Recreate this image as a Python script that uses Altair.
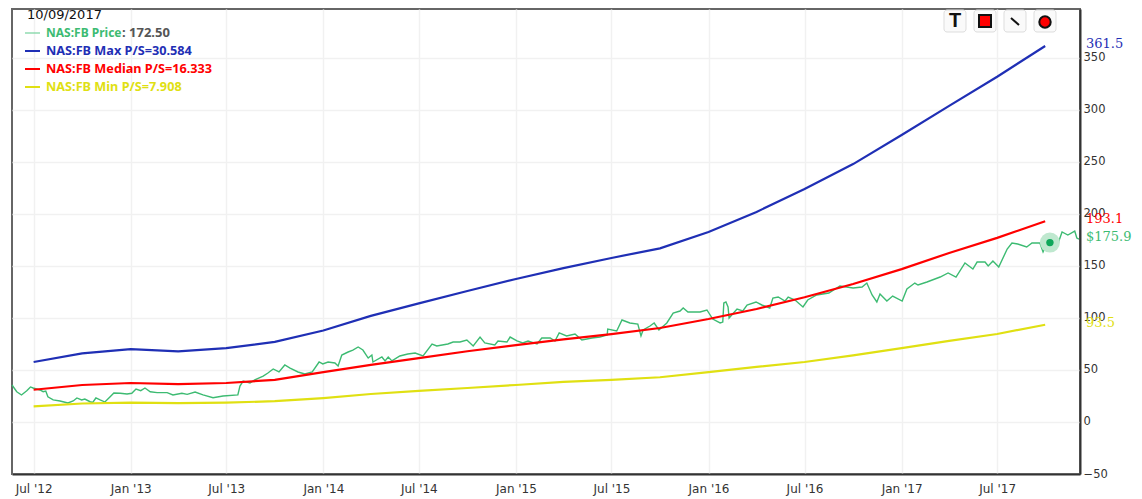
import altair as alt
import pandas as pd

# --- price series: days since 2012-05-21 and closing price ---
price_days = [0,4,9,18,28,35,40,53,59,64,68,78,91,106,116,123,132,138,148,153,159,167,176,186,193,205,218,227,235,244,252,262,275,294,305,322,332,347,362,381,400,428,432,
438,451,460,476,485,495,506,517,527,542,555,569,582,589,599,612,618,625,637,646,656,665,675,682,684,701,707,713,720,735,750,764,779,796,805,826,836,849,
862,874,887,896,915,921,938,944,957,968,978,995,1004,1020,1029,1037,1051,1067,1080,1099,1114,1128,1129,1146,1156,1171,1186,1192,1196,1209,1217,1226,1241,1253,1266,
1272,1281,1304,1317,1328,1342,1347,1349,1353,1357,1359,1374,1385,1393,1410,1421,1436,1442,1452,1465,1471,1484,1499,1508,1525,1548,1569,1594,1611,1620,1630,1639,1645,1658,1669,
1687,1696,1711,1717,1734,1759,1774,1789,1806,1821,1829,1844,1850,1859,1870,1886,1895,1906,1923,1933,1948,1954,1961,1967,1982,1990,2001,2014,2018,2022]
price_values = [35.6,32.7,29.1,26,30.1,33.7,32.7,30.8,29.1,29.8,24.3,21.2,20.2,18.3,20.2,23.1,21.2,22.1,19.5,18.9,23.1,21.2,19.2,24.3,27.9,27.6,26.9,27.6,31.7,30.1,32.7,29.1,28.2,28.2,26,27.6,26.6,28.8,26,23.4,25,26,34.6,
39.4,37.5,40.4,44.2,47.1,51,48.1,54.8,51.9,48.1,46.2,48.1,57.7,55.8,57.7,56.7,53.8,64.4,67.3,69.2,72.1,69.2,61.5,64.4,57.7,62.5,58.7,62.5,58.7,63.5,65.4,66.3,63.5,75,73.1,75,76.9,76.9,
78.8,73.1,81.7,76,74,77.9,76.9,81.7,77.9,76,77.9,75,80.8,80.8,77.9,85.6,82.7,84.6,78.8,80.8,81.7,83.7,89.4,87.5,98.1,95.2,94.2,82.7,88.5,92.3,95.2,88.5,95.2,104.8,106.7,
109.6,105.8,105.8,107.7,99,95.2,96.1,114.4,115.4,110.6,100,108.6,106.7,112.5,115.4,112.5,109.6,119.2,120.2,116.3,120.2,117.3,110.6,117.3,122.1,124,130.8,128.8,129.8,133.6,122.1,115.4,123.1,116.3,121.1,
116.3,127.9,133.6,131.7,134.6,139.4,143.3,139.4,152.9,147.1,153.8,153.8,150,154.8,149,166.3,172.1,171.1,168.3,172.1,172.1,163.5,171.1,172.5,171.1,182.7,179.8,183.6,176.9,175.9]

# --- quarterly valuation lines ---
quarters = ["2012-07-01","2012-10-01","2013-01-01","2013-04-01","2013-07-01","2013-10-01","2014-01-01","2014-04-01",
            "2014-07-01","2014-10-01","2015-01-01","2015-04-01","2015-07-01","2015-10-01","2016-01-01","2016-04-01",
            "2016-07-01","2016-10-01","2017-01-01","2017-04-01","2017-07-01","2017-09-30"]
max_ps = [57.7,66,70,68,71,77,88,102,114,126,137.5,148,157.7,167,182.7,202,224,248,276,304,332,361.5]
median_ps = [31,35.6,37.5,36.5,37.5,40.5,48,55,61.5,68,74,79.5,84.5,90.4,99,108.6,120,132.7,147,162.5,177,193.1]
min_ps = [15,17.8,18.6,18.2,18.6,20,23,26.9,30,32.7,35.6,38.5,40.5,43,48,53,57.7,64,71,78,84.6,93.5]

y_ticks = [-50,0,50,100,150,200,250,300,350]
x_ticks = [(2012,7),(2013,1),(2013,7),(2014,1),(2014,7),(2015,1),(2015,7),(2016,1),(2016,7),(2017,1),(2017,7)]

GREEN, BLUE, RED, YELLOW = "#3dbb72", "#1f2fb5", "#ff0000", "#e0e012"
OX, OY = 12, 9  # plot origin in the page

base = pd.Timestamp("2012-05-21")
price_df = pd.DataFrame({"date": [(base + pd.Timedelta(days=d)).strftime("%Y-%m-%d") for d in price_days],
                         "v": price_values})
q_df = pd.DataFrame({"date": quarters, "max": max_ps, "median": median_ps, "min": min_ps})

x_scale = alt.Scale(domain=["2012-05-21", "2017-12-05"])
y_scale = alt.Scale(domain=[-50, 397.1], nice=False, zero=False)
x_enc = alt.X("date:T", scale=x_scale, title=None,
              axis=alt.Axis(values=[alt.DateTime(year=a, month=m, date=1) for a, m in x_ticks],
                            format="%b '%y", ticks=False, labelPadding=9, labelFlush=False,
                            labelFont="DejaVu Sans", labelFontSize=12, labelColor="#333333",
                            domainColor="#333333", domainWidth=2,
                            grid=True, gridColor="#f1f1f1", gridWidth=1.5))
y_enc = alt.Y("v:Q", scale=y_scale, title=None,
              axis=alt.Axis(orient="right", values=y_ticks, ticks=False, labelPadding=3,
                            labelFont="DejaVu Sans", labelFontSize=11.5, labelColor="#333333",
                            domainColor="#333333", domainWidth=2,
                            grid=True, gridColor="#f1f1f1", gridWidth=1.5))

price = alt.Chart(price_df).mark_line(color=GREEN, strokeWidth=1.4, interpolate="linear").encode(x=x_enc, y=y_enc)

def qline(col, color):
    return alt.Chart(q_df).transform_calculate(v=f"datum['{col}']").mark_line(
        color=color, strokeWidth=2.2).encode(x=alt.X("date:T"), y=alt.Y("v:Q"))

halo = alt.Chart(pd.DataFrame({"date": ["2017-10-09"], "v": [172.5]})).mark_point(
    filled=True, size=400, color="#bfe8cf", opacity=1).encode(x="date:T", y="v:Q")
dot = alt.Chart(pd.DataFrame({"date": ["2017-10-09"], "v": [172.5]})).mark_point(
    filled=True, size=55, color="#0fa75a", opacity=1).encode(x="date:T", y="v:Q")

LEG = "Noto Sans"

def text(t, px, py, color, size=12.7, weight="bold", font=LEG, align="left"):
    return alt.Chart(pd.DataFrame({"t": [t]})).mark_text(
        align=align, baseline="middle", font=font, fontSize=size, fontWeight=weight, color=color
    ).encode(text="t:N", x=alt.value(px - OX), y=alt.value(py - OY))

def seg(x1, y1, x2, y2, color, w):
    return alt.Chart(pd.DataFrame({"a": [0]})).mark_rule(color=color, strokeWidth=w).encode(
        x=alt.value(x1 - OX), x2=alt.value(x2 - OX), y=alt.value(y1 - OY), y2=alt.value(y2 - OY))

def box(x1, y1, x2, y2, fill, stroke, w, r=0):
    return alt.Chart(pd.DataFrame({"a": [0]})).mark_rect(
        fill=fill, stroke=stroke, strokeWidth=w, cornerRadius=r).encode(
        x=alt.value(x1 - OX), x2=alt.value(x2 - OX), y=alt.value(y1 - OY), y2=alt.value(y2 - OY))

def vlabel(t, val, color):
    return alt.Chart(pd.DataFrame({"t": [t], "v": [val]})).mark_text(
        align="left", baseline="middle", dy=-2, font="DejaVu Serif", fontSize=13, color=color
    ).encode(text="t:N", x=alt.value(1086 - OX), y="v:Q")

legend = [
    text("10/09/2017", 27, 15, "#111111", 13, "normal", "DejaVu Sans"),
    seg(25, 33, 40, 33, "#7fd6a4", 1.3), text("NAS:FB Price", 46, 33, GREEN, 12), text(": 172.50", 122, 33, "#555555", 13),
    seg(25, 51, 40, 51, BLUE, 2), text("NAS:FB Max P/S=30.584", 46, 51, BLUE),
    seg(25, 69, 40, 69, RED, 2), text("NAS:FB Median P/S=16.333", 46, 69, RED),
    seg(25, 87, 40, 87, YELLOW, 2), text("NAS:FB Min P/S=7.908", 46, 87, YELLOW),
]
tools = []
for x1 in [944, 974, 1004, 1034]:
    tools.append(box(x1, 10, x1 + 22, 32, "#fafafa", "#dddddd", 1, 3))
tools += [
    text("T", 955, 21, "#111111", 20, "bold", "Liberation Sans", align="center"),
    box(979, 15, 991, 27, "#ff0000", "#111111", 2),
    seg(1011, 18, 1019, 25, "#111111", 2),
]
circle = alt.Chart(pd.DataFrame({"a": [0]})).mark_point(
    filled=True, fill="#ff0000", stroke="#111111", strokeWidth=2, size=130, opacity=1).encode(
    x=alt.value(1045 - OX), y=alt.value(22 - OY))

chart = alt.layer(
    price, qline("max", BLUE), qline("min", YELLOW), qline("median", RED), halo, dot,
    vlabel("361.5", 361.5, BLUE), vlabel("193.1", 193.1, RED),
    vlabel("$175.9", 175.9, GREEN), vlabel("93.5", 93.5, YELLOW),
    *legend, *tools, circle,
).properties(
    width=1068, height=465, background="white",
    padding={"left": 4, "top": 1, "right": 54, "bottom": 22},
    autosize=alt.AutoSizeParams(type="none"),
).configure_view(stroke="#666666", strokeWidth=2)

chart.save("out.html", embed_options={"renderer": "svg", "actions": False})
